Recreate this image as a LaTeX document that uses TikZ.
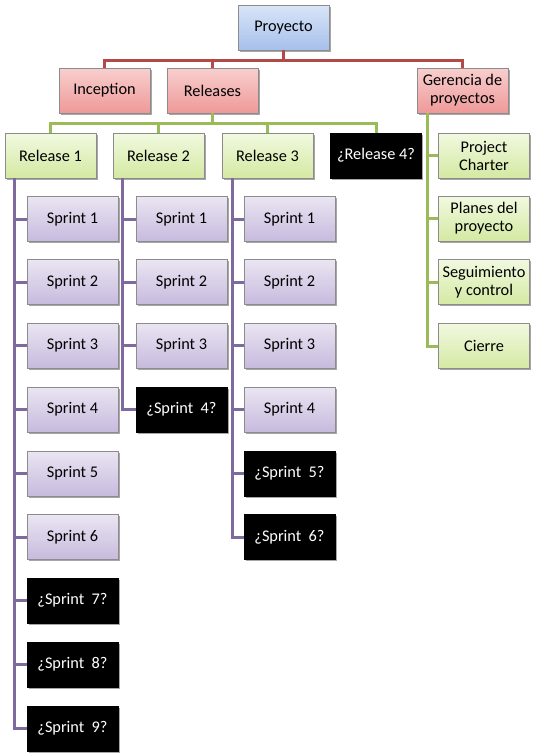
\documentclass[tikz,border=0pt]{standalone}
\usepackage{fontspec}
\setmainfont{Carlito}
\usetikzlibrary{shadows}
\definecolor{bluetop}{HTML}{D9E5F8}
\definecolor{bluebot}{HTML}{A6C0EB}
\definecolor{redtop}{HTML}{F8CFCE}
\definecolor{redbot}{HTML}{EE9998}
\definecolor{grntop}{HTML}{F1F9E0}
\definecolor{grnbot}{HTML}{D4E9A2}
\definecolor{purtop}{HTML}{EAE5F2}
\definecolor{purbot}{HTML}{C7BADE}
\definecolor{redline}{HTML}{B24A47}
\definecolor{grnline}{HTML}{9BBB59}
\definecolor{purline}{HTML}{7E6A9E}
\definecolor{boxedge}{HTML}{8C8C8C}
\tikzset{
  box/.style={draw=boxedge, line width=0.6pt, minimum width=91pt, minimum height=45pt,
    inner sep=1pt, align=center, text=black,
    font=\fontsize{16.3}{18}\selectfont,
    drop shadow={shadow xshift=1.5pt, shadow yshift=-1.5pt, opacity=0.35, fill=black}},
  bluebox/.style={box, top color=bluetop, bottom color=bluebot},
  redbox/.style={box, top color=redtop, bottom color=redbot},
  grnbox/.style={box, top color=grntop, bottom color=grnbot},
  purbox/.style={box, top color=purtop, bottom color=purbot},
  blkbox/.style={box, fill=black, draw=black, text=white},
  redc/.style={draw=redline, line width=3pt},
  grnc/.style={draw=grnline, line width=3pt},
  purc/.style={draw=purline, line width=3pt},
}
\begin{document}
\begin{tikzpicture}[x=1pt,y=-1pt]
\useasboundingbox[fill=white] (0,0) rectangle (534,756);
% coordinates of buses
\coordinate (rbus) at (0,60.5);
\coordinate (gbus) at (0,123);
\coordinate (gvx) at (427,0);
\coordinate (c1x) at (14,0);
\coordinate (c2x) at (122,0);
\coordinate (c3x) at (232,0);

\node[bluebox] (pro) at (283.5,27.5) {Proyecto};
\node[redbox] (inc) at (104.5,90.5) {Inception};
\node[redbox] (rls) at (212.5,90.5) {Releases};
\node[redbox] (ger) at (462.5,90.5) {Gerencia de\\proyectos};

\node[grnbox] (r1) at (50.5,155.5) {Release 1};
\node[grnbox] (r2) at (158.5,155.5) {Release 2};
\node[grnbox] (r3) at (267.5,155.5) {Release 3};
\node[blkbox] (r4) at (376,155.5) {¿Release 4?};

\node[grnbox] (pc) at (484,155.5) {Project\\Charter};
\node[grnbox] (pl) at (484,218.5) {Planes del\\proyecto};
\node[grnbox] (sc) at (484,282) {Seguimiento\\y control};
\node[grnbox] (ci) at (484,346) {Cierre};

% column 1 sprints
\node[purbox] (a1) at (72.5,219) {Sprint 1};
\node[purbox] (a2) at (72.5,282) {Sprint 2};
\node[purbox] (a3) at (72.5,345.5) {Sprint 3};
\node[purbox] (a4) at (72.5,409.5) {Sprint 4};
\node[purbox] (a5) at (72.5,473.5) {Sprint 5};
\node[purbox] (a6) at (72.5,537) {Sprint 6};
\node[blkbox] (a7) at (72.5,600.5) {¿Sprint\ \ 7?};
\node[blkbox] (a8) at (72.5,664.5) {¿Sprint\ \ 8?};
\node[blkbox] (a9) at (72.5,728.5) {¿Sprint\ \ 9?};

% column 2 sprints
\node[purbox] (b1) at (181.5,219) {Sprint 1};
\node[purbox] (b2) at (181.5,282) {Sprint 2};
\node[purbox] (b3) at (181.5,345.5) {Sprint 3};
\node[blkbox] (b4) at (181.5,409.5) {¿Sprint\ \ 4?};

% column 3 sprints
\node[purbox] (c1) at (289.5,219) {Sprint 1};
\node[purbox] (c2) at (289.5,282) {Sprint 2};
\node[purbox] (c3) at (289.5,345.5) {Sprint 3};
\node[purbox] (c4) at (289.5,409.5) {Sprint 4};
\node[blkbox] (c5) at (289.5,473.5) {¿Sprint\ \ 5?};
\node[blkbox] (c6) at (289.5,537) {¿Sprint\ \ 6?};

% red connectors
\draw[redc] (pro.south) -- (pro.south |- rbus);
\draw[redc] (inc.north) |- (rbus -| ger.north) -- (ger.north);
\draw[redc] (rls.north) -- (rls.north |- rbus);

% green release connectors
\draw[grnc] (rls.south) -- (rls.south |- gbus);
\draw[grnc] (r1.north) |- (gbus -| r4.north) -- (r4.north);
\draw[grnc] (r2.north) -- (r2.north |- gbus);
\draw[grnc] (r3.north) -- (r3.north |- gbus);

% gerencia connectors
\draw[grnc] (ger.south -| gvx) |- (ci.west);
\foreach \n in {pc,pl,sc} \draw[grnc] (\n.west) -- (\n.west -| gvx);

% purple connectors
\draw[purc] (r1.south -| c1x) |- (a9.west);
\foreach \n in {a1,a2,a3,a4,a5,a6,a7,a8} \draw[purc] (\n.west) -- (\n.west -| c1x);
\draw[purc] (r2.south -| c2x) |- (b4.west);
\foreach \n in {b1,b2,b3} \draw[purc] (\n.west) -- (\n.west -| c2x);
\draw[purc] (r3.south -| c3x) |- (c6.west);
\foreach \n in {c1,c2,c3,c4,c5} \draw[purc] (\n.west) -- (\n.west -| c3x);
\end{tikzpicture}
\end{document}
